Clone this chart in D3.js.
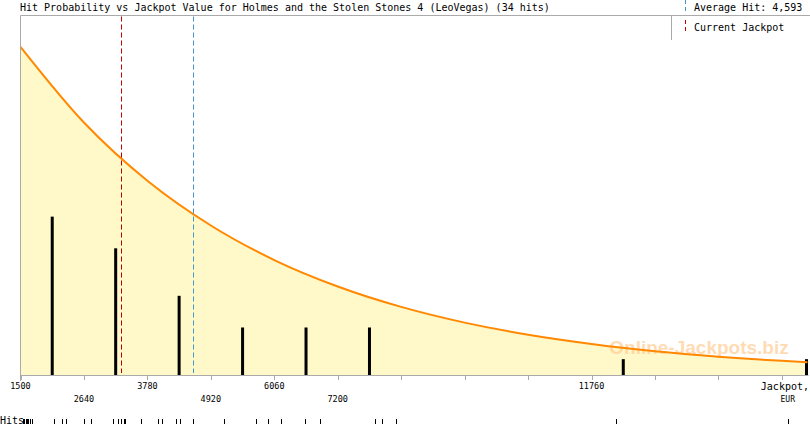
<!DOCTYPE html>
<html><head><meta charset="utf-8">
<script src="https://cdn.jsdelivr.net/npm/d3@7"></script>
<style>body{margin:0;background:#fff}svg{display:block}</style>
</head><body>
<svg id="c" width="810" height="425"></svg>
<script>
const titleText = "Hit Probability vs Jackpot Value for Holmes and the Stolen Stones 4 (LeoVegas) (34 hits)";
const averageHit = 4593;
const currentJackpot = 3307;
const xTicks = [1500,2640,3780,4920,6060,7200,8340,9480,10620,11760,12900,14040,15180];
const xTickLabels = [1500,2640,3780,4920,6060,7200,11760];
const hits = [1548,1571,1597,1619,1642,1668,1701,2103,2254,2319,
  2649,2775,3163,3248,3314,3355,3379,3661,
  3971,4043,4302,4361,4600,
  5157,5739,5947,
  6188,6606,6875,
  7863,8001,8240,
  12204,15286];
const curveJackpot = [1500,2640,3780,4920,6060,7200,8340,9480,10620,11760,12900,14040,15180,15640];
const curveProb = [0.913,0.7025,0.5404,0.4159,0.3198,0.2462,0.1894,0.1457,0.112,0.0864,0.0663,0.051,0.0393,0.0354];

const svg = d3.select("#c");
const L = 20.5, R = 807.5, T = 15.5, B = 375;
const x = d3.scaleLinear().domain([1500, 15640]).range([L, R]);
const yP = d3.scaleLinear().domain([0, 1]).range([B, T]);
const yC = d3.scaleLinear().domain([0, 22.7]).range([B, T]);
const mono = "'DejaVu Sans Mono', monospace";

// area + curve
const pts = curveJackpot.map((j, i) => [j, curveProb[i]]);
svg.append("path").datum(pts)
  .attr("d", d3.area().x(d => x(d[0])).y0(B).y1(d => yP(d[1])).curve(d3.curveMonotoneX))
  .attr("fill", "#fff8c8");

// watermark
svg.append("text").attr("x", 699).attr("y", 354).attr("text-anchor", "middle")
  .attr("font-family", "'Liberation Sans', Arial, sans-serif").attr("font-weight", "bold")
  .attr("font-size", 19).attr("fill", "#ffcf9a").attr("fill-opacity", 0.75)
  .text("Online-Jackpots.biz");

// bins
const bins = d3.bin().domain([1500, 16320]).thresholds(xTicks.concat([16320]))(hits).filter(b => b.length);
const bw = 3;
svg.append("g").selectAll("rect").data(bins).join("rect")
  .attr("x", d => Math.min(x((d.x0 + d.x1) / 2), R) - bw / 2 - (x((d.x0 + d.x1) / 2) > R ? 1 : 0))
  .attr("y", d => yC(d.length))
  .attr("width", bw)
  .attr("height", d => B - yC(d.length))
  .attr("fill", "#000");

// curve line
svg.append("path").datum(pts)
  .attr("d", d3.line().x(d => x(d[0])).y(d => yP(d[1])).curve(d3.curveMonotoneX))
  .attr("fill", "none").attr("stroke", "#ff8800").attr("stroke-width", 2);

// reference lines
svg.append("line").attr("x1", Math.round(x(currentJackpot)) + 0.5).attr("x2", Math.round(x(currentJackpot)) + 0.5)
  .attr("y1", T + 1).attr("y2", B - 2).attr("stroke", "#c00000").attr("stroke-dasharray", "5,3");
svg.append("line").attr("x1", Math.round(x(averageHit)) + 0.5).attr("x2", Math.round(x(averageHit)) + 0.5)
  .attr("y1", T + 1).attr("y2", B - 2).attr("stroke", "#3d95c8").attr("stroke-dasharray", "5,3");

// frame
const frame = svg.append("g").attr("stroke", "#aaa").attr("fill", "none");
frame.append("line").attr("x1", L).attr("x2", L).attr("y1", T).attr("y2", B + 6);
frame.append("line").attr("x1", L).attr("x2", 810).attr("y1", T).attr("y2", T);
frame.append("line").attr("x1", L).attr("x2", R + 1).attr("y1", B + 0.5).attr("y2", B + 0.5);
frame.append("line").attr("x1", 671.5).attr("x2", 671.5).attr("y1", T).attr("y2", 40);

// x axis ticks
svg.append("g").selectAll("line").data(xTicks).join("line")
  .attr("x1", d => Math.round(x(d)) + 0.5).attr("x2", d => Math.round(x(d)) + 0.5)
  .attr("y1", B).attr("y2", B + 5).attr("stroke", "#aaa");
svg.append("g").selectAll("text").data(xTickLabels).join("text")
  .attr("x", d => x(d)).attr("y", (d, i) => i % 2 === 0 ? 389 : 402)
  .attr("text-anchor", "middle").attr("font-family", mono).attr("font-size", 8.5)
  .attr("fill", "#000").text(d => d);
svg.append("text").attr("x", 809).attr("y", 390).attr("text-anchor", "end")
  .attr("font-family", mono).attr("font-size", 10).text("Jackpot,");
svg.append("text").attr("x", 795).attr("y", 402).attr("text-anchor", "end")
  .attr("font-family", mono).attr("font-size", 8).text("EUR");

// hits row
svg.append("text").attr("x", 0).attr("y", 423.5).attr("font-family", mono).attr("font-size", 10).text("Hits");
svg.append("g").selectAll("line").data(hits).join("line")
  .attr("x1", d => Math.round(x(d)) + 0.5).attr("x2", d => Math.round(x(d)) + 0.5)
  .attr("y1", 419).attr("y2", 424).attr("stroke", "#000");

// title & legend
svg.append("text").attr("x", 20).attr("y", 10.5).attr("font-family", mono).attr("font-size", 10).text(titleText);
svg.append("line").attr("x1", 685.5).attr("x2", 685.5).attr("y1", 0).attr("y2", 12)
  .attr("stroke", "#3d95c8").attr("stroke-dasharray", "4,3");
svg.append("text").attr("x", 694).attr("y", 10.5).attr("font-family", mono).attr("font-size", 10)
  .text("Average Hit: " + d3.format(",")(averageHit));
svg.append("line").attr("x1", 685.5).attr("x2", 685.5).attr("y1", 20).attr("y2", 34)
  .attr("stroke", "#c00000").attr("stroke-dasharray", "4,3");
svg.append("text").attr("x", 694).attr("y", 30.5).attr("font-family", mono).attr("font-size", 10).text("Current Jackpot");
</script>
</body></html>
